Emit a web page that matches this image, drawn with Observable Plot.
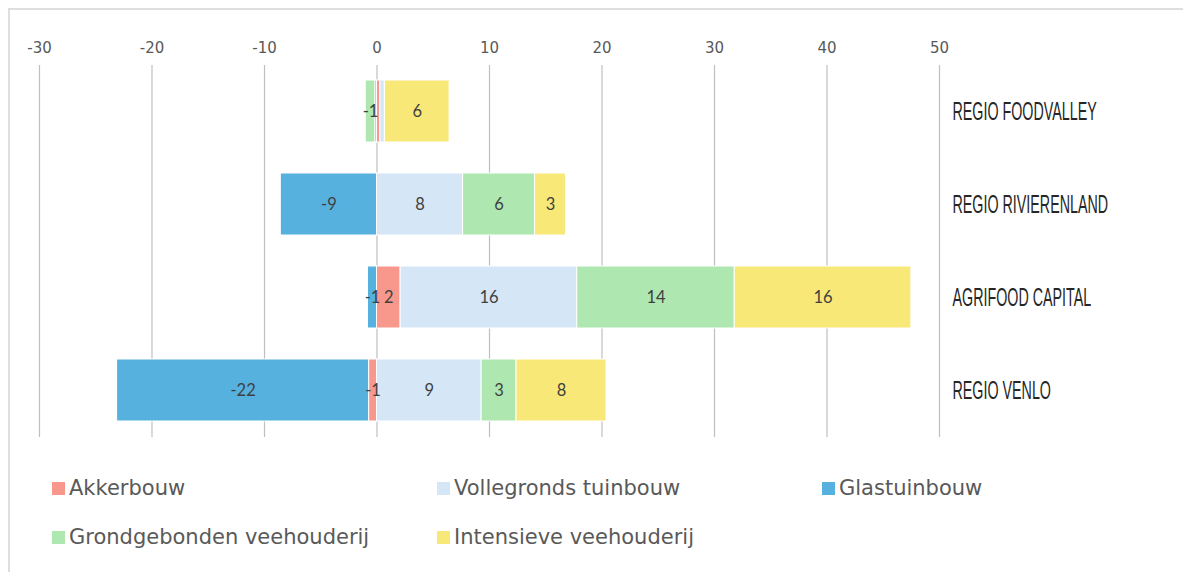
<!DOCTYPE html>
<html>
<head>
<meta charset="utf-8">
<script src="https://cdn.jsdelivr.net/npm/d3@7"></script>
<script src="https://cdn.jsdelivr.net/npm/@observablehq/plot@0.6"></script>
<style>
  html, body { margin: 0; padding: 0; background: #fff; }
  body { width: 1183px; height: 572px; overflow: hidden; position: relative; }
  #frame { position: absolute; left: 8px; top: 8px; width: 1300px; height: 700px; border-left: 2px solid #dedede; border-top: 2px solid #dedede; box-sizing: border-box; }
  #chart { position: absolute; left: 0; top: 0; }
  #legend { position: absolute; left: 0; top: 450px; width: 1183px; font-family: "DejaVu Sans", Verdana, sans-serif; font-size: 21px; color: #595959; }
  .item { position: absolute; display: flex; align-items: center; white-space: nowrap; }
  .sw { width: 13px; height: 13px; margin-right: 4px; }
</style>
</head>
<body>
<div id="frame"></div>
<div id="chart"></div>
<div id="legend"></div>
<script>
const regions = ["REGIO FOODVALLEY", "REGIO RIVIERENLAND", "AGRIFOOD CAPITAL", "REGIO VENLO"];
const seriesNames = ["Akkerbouw", "Vollegronds tuinbouw", "Glastuinbouw", "Grondgebonden veehouderij", "Intensieve veehouderij"];
const seriesColors = ["#F8978B", "#D5E7F6", "#56B1DE", "#AEE8B0", "#F8E878"];
// values per series, in region order
const akkerbouw     = [0.3, 0, 2.1, -0.7];
const vollegronds   = [0.4, 7.65, 15.7, 9.3];
const glastuinbouw  = [-0.15, -8.55, -0.8, -22.4];
const grondgebonden = [-0.85, 6.4, 14.0, 3.1];
const intensieve    = [5.75, 2.75, 15.7, 8.0];
const tickValues = [-30, -20, -10, 0, 10, 20, 30, 40, 50];

const seriesValues = [akkerbouw, vollegronds, glastuinbouw, grondgebonden, intensieve];
const data = [];
seriesNames.forEach((s, si) => {
  regions.forEach((r, ri) => {
    const v = seriesValues[si][ri];
    if (v !== 0) data.push({region: r, series: s, value: v});
  });
});

const fmt = v => String(Math.round(v));

const plot = Plot.plot({
  width: 1183,
  height: 450,
  marginLeft: 39,
  marginRight: 244,
  marginTop: 65,
  marginBottom: 13,
  style: {fontFamily: "Liberation Sans, Arial, sans-serif", background: "transparent"},
  x: {domain: [-30, 50], ticks: tickValues, axis: null, label: null},
  y: {domain: regions, paddingInner: 0.33, paddingOuter: 0.165, axis: null, label: null},
  color: {domain: seriesNames, range: seriesColors},
  marks: [
    Plot.ruleX(tickValues, {stroke: "#bfbfbf", strokeWidth: 1.2}),
    Plot.axisX({anchor: "top", label: null, ticks: tickValues, tickSize: 0, tickPadding: 13, fontSize: 15, fill: "#595959", fontFamily: "'DejaVu Sans', Verdana, sans-serif", tickFormat: d => d < 0 ? "-" + Math.abs(d) : String(d)}),
    Plot.barX(data, Plot.stackX({x: "value", y: "region", fill: "series", stroke: "#ffffff", strokeWidth: 1, order: seriesNames})),
    Plot.text(data, Plot.stackX({x: "value", y: "region", z: "series", order: seriesNames, text: d => Math.round(d.value) === 0 ? "" : fmt(d.value), fill: "#404040", fontSize: 16.5, fontFamily: "Lato, 'Open Sans', sans-serif"})),
    Plot.axisY({anchor: "right", label: null, tickSize: 0, tickPadding: 13, fontSize: 14.3, fill: "#262626", fontFamily: "'Liberation Sans', Arial, sans-serif", textAnchor: "start"})
  ]
});
document.getElementById("chart").appendChild(plot);

// condense the region labels: narrow font size, stretched vertically around each label's centre
d3.select(plot).selectAll("g[aria-label='y-axis tick label']").selectAll("text").each(function() {
  const bb = this.getBBox();
  const cy = bb.y + bb.height / 2;
  const t = this.getAttribute("transform") || "";
  this.setAttribute("transform", `${t} translate(0,${cy.toFixed(2)}) scale(1,1.82) translate(0,${(-cy).toFixed(2)})`);
});

// legend
const legendPos = [
  {x: 52, y: 39}, {x: 437, y: 39}, {x: 822, y: 39},
  {x: 52, y: 88}, {x: 437, y: 88}
];
const leg = document.getElementById("legend");
seriesNames.forEach((s, i) => {
  const it = document.createElement("div");
  it.className = "item";
  it.style.left = legendPos[i].x + "px";
  it.style.top = (legendPos[i].y - 13) + "px";
  const sw = document.createElement("span");
  sw.className = "sw";
  sw.style.background = seriesColors[i];
  const tx = document.createElement("span");
  tx.textContent = s;
  it.appendChild(sw); it.appendChild(tx);
  leg.appendChild(it);
});
</script>
</body>
</html>
